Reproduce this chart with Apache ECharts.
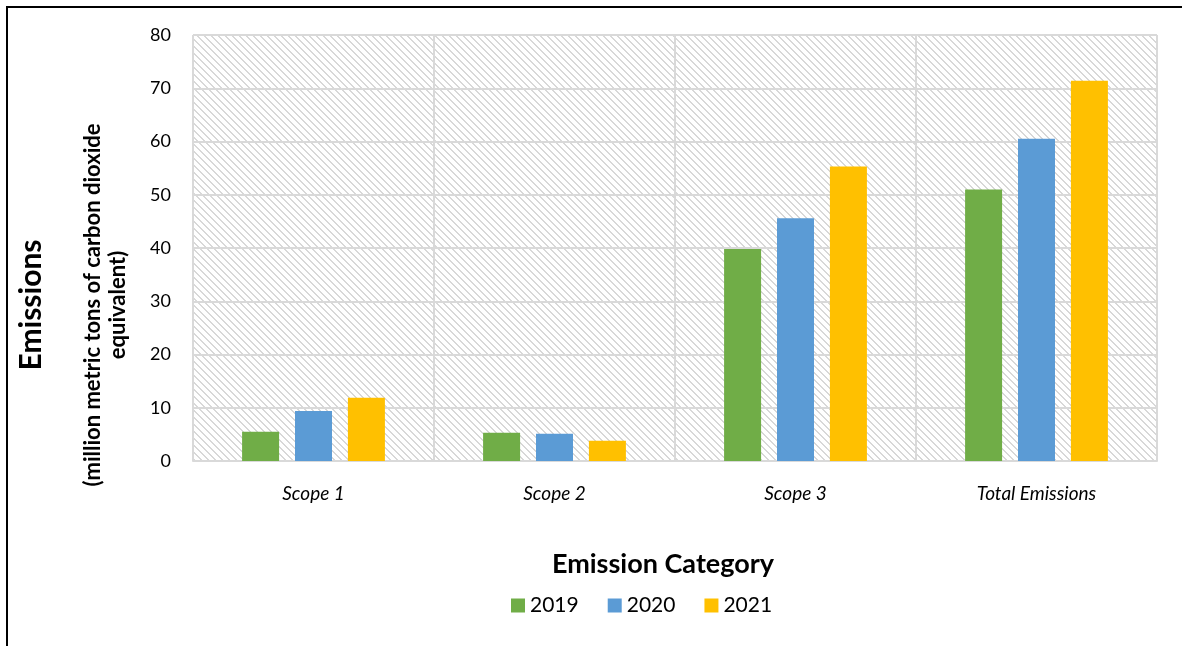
<!DOCTYPE html>
<html>
<head>
<meta charset="utf-8">
<script src="https://cdn.jsdelivr.net/npm/echarts@6/dist/echarts.min.js"></script>
<style>
  html, body { margin: 0; padding: 0; background: #fff; }
  #chart { width: 1182px; height: 646px; }
</style>
</head>
<body>
<div id="chart"></div>
<script>
// Emissions by category and year (million metric tons CO2e)
const categories = ['Scope 1', 'Scope 2', 'Scope 3', 'Total Emissions'];
const years = ['2019', '2020', '2021'];
const values2019 = [5.5, 5.3, 39.8, 51.0];
const values2020 = [9.4, 5.1, 45.6, 60.5];
const values2021 = [11.9, 3.8, 55.3, 71.4];
const yTicks = { min: 0, max: 80, interval: 10 };

const FONT = 'Lato, "Open Sans", "Noto Sans", sans-serif';
const colors = ['#70AD47', '#5B9BD5', '#FFC000'];

// Diagonal hatch tile for the plot background
function hatchTile() {
  const n = 7;
  const c = document.createElement('canvas');
  c.width = n; c.height = n;
  const ctx = c.getContext('2d');
  ctx.fillStyle = '#ffffff';
  ctx.fillRect(0, 0, n, n);
  ctx.fillStyle = '#d8d8d8';
  for (let y = 0; y < n; y++) {
    ctx.fillRect(y, y, 1, 1);
    ctx.fillRect((y + 1) % n, y, 1, 1);
  }
  return c;
}

const chart = echarts.init(document.getElementById('chart'), null, { renderer: 'canvas' });

const seriesData = [values2019, values2020, values2021];

chart.setOption({
  backgroundColor: '#ffffff',
  animation: false,
  grid: {
    left: 193, right: 25, top: 35, bottom: 185,
    show: true,
    backgroundColor: { image: hatchTile(), repeat: 'repeat' },
    borderWidth: 0
  },
  legend: {
    data: years,
    left: 506, top: 590,
    itemWidth: 14, itemHeight: 14, itemGap: 29,
    icon: 'rect',
    textStyle: { fontFamily: FONT, fontSize: 21, color: '#000' }
  },
  xAxis: {
    type: 'category',
    data: categories,
    axisLine: { show: true, lineStyle: { color: '#d9d9d9', width: 2 } },
    axisTick: { show: false },
    splitLine: { show: true, lineStyle: { color: '#d9d9d9', width: 2 } },
    axisLabel: {
      fontFamily: FONT, fontSize: 19, fontStyle: 'italic', color: '#000',
      margin: 23, interval: 0
    }
  },
  yAxis: {
    type: 'value',
    min: yTicks.min, max: yTicks.max, interval: yTicks.interval,
    axisLine: { show: false },
    axisTick: { show: false },
    splitLine: { show: true, lineStyle: { color: '#d9d9d9', width: 2 } },
    axisLabel: { fontFamily: FONT, fontSize: 18, color: '#000', margin: 22 }
  },
  series: years.map((y, i) => ({
    name: y,
    type: 'bar',
    data: seriesData[i],
    barWidth: 37,
    barGap: '43%',
    itemStyle: { color: colors[i] }
  })),
  graphic: [
    {
      type: 'rect', silent: true, z: 100,
      shape: { x: 7, y: 7, width: 1300, height: 800 },
      style: { fill: 'none', stroke: '#000', lineWidth: 2 }
    },
    {
      type: 'text', z: 100,
      x: 663, y: 564,
      style: {
        text: 'Emission Category', fontFamily: FONT, fontSize: 27, fontWeight: 'bold',
        fill: '#000', align: 'center', verticalAlign: 'middle'
      }
    },
    {
      type: 'text', z: 100,
      x: 31, y: 305, rotation: Math.PI / 2,
      style: {
        text: 'Emissions', fontFamily: FONT, fontSize: 30, fontWeight: 'bold',
        fill: '#000', align: 'center', verticalAlign: 'middle'
      }
    },
    {
      type: 'text', z: 100,
      x: 93, y: 305, rotation: Math.PI / 2,
      style: {
        text: '(million metric tons of carbon dioxide', fontFamily: FONT, fontSize: 22, fontWeight: 'bold',
        fill: '#000', align: 'center', verticalAlign: 'middle'
      }
    },
    {
      type: 'text', z: 100,
      x: 118, y: 305, rotation: Math.PI / 2,
      style: {
        text: 'equivalent)', fontFamily: FONT, fontSize: 22, fontWeight: 'bold',
        fill: '#000', align: 'center', verticalAlign: 'middle'
      }
    }
  ]
});
</script>
</body>
</html>
